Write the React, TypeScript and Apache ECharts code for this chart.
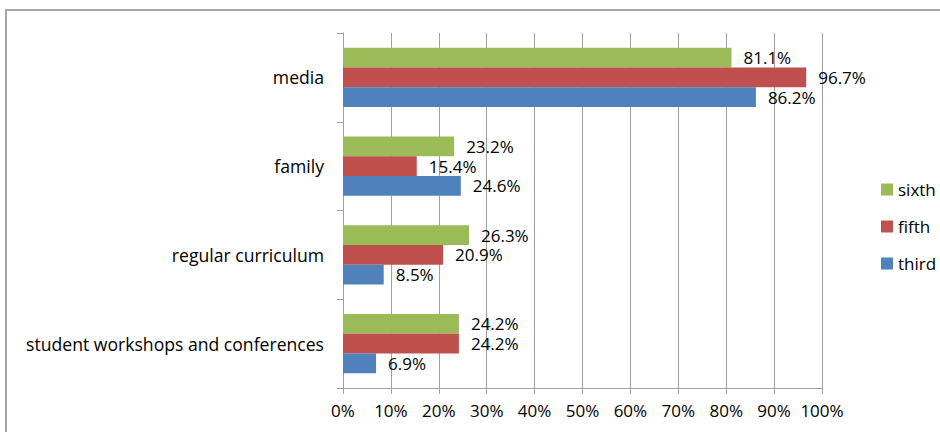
import React, { useEffect, useRef } from "react";
import * as echarts from "echarts";

const categories = ["student workshops and conferences", "regular curriculum", "family", "media"];
const third = [6.9, 8.5, 24.6, 86.2];
const fifth = [24.2, 20.9, 15.4, 96.7];
const sixth = [24.2, 26.3, 23.2, 81.1];
const legendOrder = ["sixth", "fifth", "third"];

const FONT = "'Open Sans', 'Noto Sans', sans-serif";

export default function App() {
  const ref = useRef<HTMLDivElement>(null);
  useEffect(() => {
    const chart = echarts.init(ref.current!, null, { renderer: "svg" });
    const label = {
      show: true,
      position: "right",
      distance: 12,
      color: "#000",
      fontSize: 17,
      fontFamily: FONT,
      formatter: (p: any) => p.value.toFixed(1) + "%",
    };
    const mk = (name: string, data: number[], color: string) => ({
      name,
      type: "bar",
      data,
      barGap: "0%",
      barCategoryGap: "33%",
      itemStyle: { color },
      label,
    });
    chart.setOption({
      animation: false,
      graphic: [
        {
          type: "rect",
          shape: { x: 6, y: 10, width: 960, height: 440 },
          style: { fill: "none", stroke: "#a6a6a6", lineWidth: 2 },
          silent: true,
        },
      ],
      grid: { left: 343, right: 118, top: 33, bottom: 44 },
      legend: {
        orient: "vertical",
        left: 876,
        top: 176,
        itemWidth: 12,
        itemHeight: 12,
        itemGap: 20,
        icon: "rect",
        data: legendOrder,
        textStyle: { fontSize: 17, color: "#000", fontFamily: FONT },
      },
      xAxis: {
        type: "value",
        min: 0,
        max: 100,
        interval: 10,
        axisLine: { show: true, lineStyle: { color: "#a0a0a0", width: 1 } },
        axisTick: { show: true, length: 6, lineStyle: { color: "#a0a0a0" } },
        splitLine: { show: true, lineStyle: { color: "#a0a0a0", width: 1 } },
        axisLabel: { formatter: "{value}%", fontSize: 17, color: "#000", fontFamily: FONT, margin: 14 },
      },
      yAxis: {
        type: "category",
        data: categories,
        axisLine: { show: true, lineStyle: { color: "#a0a0a0", width: 1 } },
        axisTick: { show: true, length: 6, lineStyle: { color: "#a0a0a0" } },
        axisLabel: { fontSize: 17.6, color: "#000", fontFamily: FONT, margin: 19 },
      },
      series: [mk("sixth", sixth, "#9BBB59"), mk("fifth", fifth, "#C0504D"), mk("third", third, "#4F81BD")],
    });
    return () => chart.dispose();
  }, []);
  return (
    <div
      ref={ref}
      style={{ position: "fixed", left: 0, top: 0, width: 940, height: 432, background: "#fff" }}
    />
  );
}
